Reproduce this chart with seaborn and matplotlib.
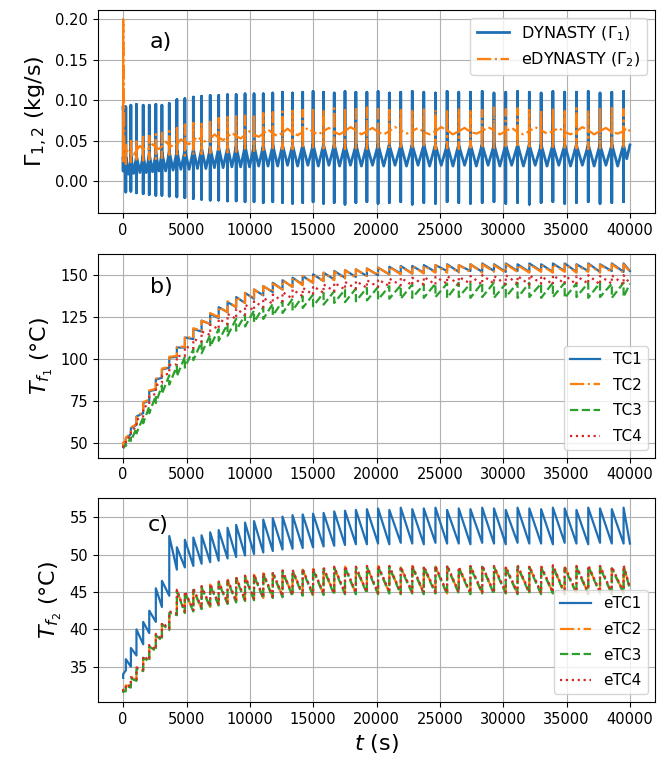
import numpy as np
import pandas as pd
import matplotlib
matplotlib.use("Agg")
import matplotlib.pyplot as plt
import seaborn as sns

# times (s) of the pump/valve events, read off panel a)
spike_t = [0, 210, 610, 1050, 1580, 2060, 2580, 3060, 3640, 4240,
           4870, 5540, 6190, 6870, 7540, 8240, 8920, 9620, 10330, 11060,
           11810, 12580, 13370, 14170, 14990, 15820, 16660, 17510, 18370, 19240,
           20120, 21010, 21910, 22820, 23730, 24650, 25570, 26490, 27410, 28340,
           29270, 30200, 31130, 32060, 32990, 33920, 34850, 35780, 36710, 37640,
           38570, 39500]
# times of the dip between two events
v_t = [105, 410, 830, 1315, 1820, 2320, 2820, 3350, 3940, 4555,
       5205, 5865, 6530, 7205, 7890, 8580, 9270, 9975, 10695, 11435,
       12195, 12975, 13770, 14580, 15405, 16240, 17085, 17940, 18805, 19680,
       20565, 21460, 22365, 23275, 24190, 25110, 26030, 26950, 27875, 28805,
       29735, 30665, 31595, 32525, 33455, 34385, 35315, 36245, 37175, 38105,
       39035, 39750]
t_end = 40000

# ---- panel a) mass flow rates (kg/s)
g1_pre = [0.090, 0.028, 0.030, 0.031, 0.032, 0.033, 0.034, 0.035, 0.036, 0.037,
          0.038, 0.039, 0.040, 0.041, 0.042, 0.042, 0.043, 0.043, 0.044, 0.044,
          0.044, 0.045, 0.045, 0.045, 0.045, 0.046, 0.045, 0.046, 0.045, 0.046,
          0.045, 0.046, 0.045, 0.046, 0.045, 0.046, 0.045, 0.046, 0.045, 0.046,
          0.045, 0.046, 0.045, 0.046, 0.045, 0.046, 0.045, 0.046, 0.045, 0.046,
          0.045, 0.046]
g1_peak = [0.093, 0.092, 0.094, 0.095, 0.094, 0.094, 0.095, 0.094, 0.096, 0.101,
           0.102, 0.104, 0.105, 0.106, 0.106, 0.107, 0.107, 0.108, 0.108, 0.108,
           0.109, 0.110, 0.109, 0.110, 0.111, 0.110, 0.109, 0.111, 0.110, 0.110,
           0.111, 0.109, 0.110, 0.111, 0.110, 0.109, 0.111, 0.110, 0.110, 0.111,
           0.109, 0.110, 0.111, 0.110, 0.109, 0.111, 0.110, 0.110, 0.111, 0.109,
           0.110, 0.111]
g1_trough = [0.013, -0.013, -0.012, -0.014, -0.015, -0.016, -0.017, -0.017, -0.018, -0.019,
             -0.020, -0.021, -0.022, -0.023, -0.023, -0.024, -0.024, -0.025, -0.025, -0.026,
             -0.025, -0.026, -0.027, -0.026, -0.025, -0.027, -0.026, -0.028, -0.026, -0.025,
             -0.027, -0.026, -0.025, -0.028, -0.026, -0.027, -0.025, -0.026, -0.027, -0.026,
             -0.025, -0.027, -0.026, -0.028, -0.026, -0.025, -0.027, -0.026, -0.025, -0.027,
             -0.026, -0.025]
g1_rise = [0.030, 0.030, 0.031, 0.032, 0.033, 0.034, 0.035, 0.036, 0.037, 0.038,
           0.039, 0.040, 0.041, 0.042, 0.042, 0.043, 0.043, 0.044, 0.044, 0.044,
           0.045, 0.045, 0.045, 0.045, 0.046, 0.045, 0.046, 0.045, 0.046, 0.045,
           0.046, 0.045, 0.046, 0.045, 0.046, 0.045, 0.046, 0.045, 0.046, 0.045,
           0.046, 0.045, 0.046, 0.045, 0.046, 0.045, 0.046, 0.045, 0.046, 0.045,
           0.046, 0.045]
g1_vlow = [0.012, 0.009, 0.010, 0.011, 0.011, 0.012, 0.013, 0.013, 0.014, 0.015,
           0.015, 0.016, 0.016, 0.017, 0.017, 0.018, 0.018, 0.018, 0.019, 0.019,
           0.019, 0.020, 0.019, 0.020, 0.019, 0.020, 0.019, 0.020, 0.019, 0.020,
           0.019, 0.020, 0.019, 0.020, 0.019, 0.020, 0.019, 0.020, 0.019, 0.020,
           0.019, 0.020, 0.019, 0.020, 0.019, 0.020, 0.019, 0.020, 0.019, 0.020,
           0.019, 0.028]
g1_end = 0.045

g2_pre = [0.200, 0.035, 0.036, 0.038, 0.040, 0.041, 0.042, 0.043, 0.045, 0.046,
          0.048, 0.050, 0.051, 0.052, 0.054, 0.055, 0.056, 0.057, 0.058, 0.059,
          0.059, 0.060, 0.060, 0.061, 0.061, 0.062, 0.061, 0.062, 0.063, 0.062,
          0.061, 0.062, 0.063, 0.062, 0.061, 0.062, 0.063, 0.062, 0.061, 0.062,
          0.063, 0.062, 0.061, 0.062, 0.063, 0.062, 0.061, 0.062, 0.063, 0.062,
          0.061, 0.062]
g2_peak = [0.200, 0.045, 0.050, 0.052, 0.055, 0.056, 0.058, 0.060, 0.062, 0.066,
           0.070, 0.072, 0.074, 0.076, 0.078, 0.079, 0.080, 0.081, 0.083, 0.084,
           0.085, 0.086, 0.087, 0.088, 0.088, 0.089, 0.090, 0.088, 0.089, 0.091,
           0.089, 0.088, 0.090, 0.089, 0.091, 0.088, 0.089, 0.090, 0.089, 0.088,
           0.091, 0.089, 0.090, 0.088, 0.089, 0.091, 0.089, 0.090, 0.088, 0.089,
           0.090, 0.089]
g2_trough = [0.025, 0.022, 0.024, 0.025, 0.026, 0.027, 0.028, 0.029, 0.030, 0.031,
             0.032, 0.033, 0.034, 0.035, 0.036, 0.036, 0.037, 0.038, 0.038, 0.039,
             0.039, 0.040, 0.040, 0.041, 0.040, 0.041, 0.042, 0.040, 0.041, 0.040,
             0.042, 0.041, 0.040, 0.041, 0.042, 0.040, 0.041, 0.040, 0.042, 0.041,
             0.040, 0.041, 0.042, 0.040, 0.041, 0.040, 0.042, 0.041, 0.040, 0.041,
             0.042, 0.041]
g2_mid = [0.030, 0.040, 0.033, 0.044, 0.038, 0.046, 0.040, 0.049, 0.043, 0.052,
          0.046, 0.055, 0.049, 0.058, 0.051, 0.060, 0.053, 0.062, 0.055, 0.064,
          0.056, 0.065, 0.057, 0.066, 0.058, 0.066, 0.058, 0.067, 0.058, 0.066,
          0.058, 0.067, 0.059, 0.066, 0.058, 0.067, 0.058, 0.066, 0.059, 0.067,
          0.058, 0.066, 0.058, 0.067, 0.059, 0.066, 0.058, 0.067, 0.058, 0.066,
          0.059, 0.066]
g2_end = 0.062

# ---- panel b) TC temperatures (degC): value before / after each event
tc1_lo = [48.0, 51.0, 55.5, 61.0, 68.0, 75.5, 82.0, 89.0, 95.0, 101.5,
          107.0, 112.0, 116.5, 121.0, 124.5, 128.0, 131.0, 133.5, 136.0, 138.0,
          140.0, 141.5, 143.0, 144.5, 145.5, 146.5, 147.5, 148.5, 149.0, 149.5,
          150.0, 150.5, 151.0, 151.0, 151.5, 152.0, 152.5, 152.0, 152.5, 152.0,
          152.5, 152.0, 152.5, 152.0, 152.5, 152.0, 152.5, 152.0, 152.5, 152.0,
          152.5, 152.0]
tc1_hi = [50.0, 53.0, 59.0, 66.0, 74.0, 81.0, 88.0, 94.0, 101.0, 107.0,
          113.0, 118.0, 123.0, 127.0, 131.0, 134.0, 137.0, 139.5, 141.5, 143.5,
          145.5, 147.0, 148.5, 149.5, 150.5, 151.5, 152.5, 153.0, 153.5, 154.0,
          154.5, 155.0, 155.5, 155.5, 156.0, 156.0, 156.5, 156.0, 156.5, 157.0,
          156.5, 157.0, 156.5, 157.0, 156.5, 157.0, 157.0, 156.5, 157.0, 156.5,
          157.0, 157.0]
tc2_lo = [48.0, 51.5, 56.0, 61.5, 68.5, 76.0, 82.5, 89.5, 95.5, 102.0,
          107.5, 112.5, 117.0, 121.0, 125.0, 128.0, 131.0, 133.5, 136.0, 138.0,
          140.0, 141.5, 143.0, 144.0, 145.5, 146.5, 147.0, 148.0, 148.5, 149.5,
          150.0, 150.5, 150.5, 151.0, 151.0, 151.5, 151.5, 151.5, 152.0, 151.5,
          152.0, 151.5, 152.0, 151.5, 152.0, 151.5, 152.0, 151.5, 152.0, 151.5,
          152.0, 151.5]
tc2_hi = [50.5, 53.5, 59.5, 66.5, 74.5, 81.5, 88.5, 94.5, 101.5, 107.5,
          113.5, 118.5, 123.0, 127.5, 131.0, 134.5, 137.0, 139.5, 141.5, 143.5,
          145.0, 147.0, 148.5, 149.5, 150.5, 151.5, 152.0, 153.0, 153.5, 154.0,
          154.5, 155.0, 155.0, 155.5, 155.5, 156.0, 156.0, 156.0, 156.5, 156.5,
          156.0, 156.5, 156.0, 156.5, 156.0, 156.5, 156.5, 156.0, 156.5, 156.0,
          156.5, 156.5]
tc3_hi = [47.0, 49.5, 53.5, 59.0, 65.5, 72.0, 78.5, 84.5, 90.5, 96.0,
          101.5, 106.0, 110.5, 114.5, 118.0, 121.0, 124.0, 126.5, 129.0, 131.0,
          133.0, 134.5, 136.0, 137.5, 138.5, 139.5, 140.5, 141.5, 142.0, 142.5,
          143.0, 143.5, 144.0, 144.5, 144.5, 145.0, 145.0, 145.5, 145.0, 145.5,
          145.5, 145.0, 145.5, 145.5, 145.0, 145.5, 145.5, 145.0, 145.5, 145.5,
          145.0, 145.5]
tc3_lo = [47.0, 48.5, 51.5, 56.0, 62.0, 68.0, 74.0, 79.5, 85.0, 90.0,
          95.0, 99.5, 103.5, 107.5, 111.0, 114.0, 117.0, 119.5, 122.0, 124.0,
          126.0, 127.5, 129.0, 130.5, 131.5, 132.5, 133.5, 134.0, 134.5, 135.0,
          135.5, 136.0, 136.0, 136.5, 136.5, 137.0, 136.5, 137.0, 136.5, 137.0,
          136.5, 137.0, 136.5, 137.0, 136.5, 137.0, 136.5, 137.0, 136.5, 137.0,
          136.5, 137.0]
tc4_lo = [47.5, 50.0, 54.5, 59.5, 66.0, 73.0, 79.5, 86.0, 91.5, 97.0,
          102.0, 106.5, 110.5, 114.5, 118.0, 121.0, 124.0, 126.5, 129.0, 131.0,
          133.0, 134.5, 136.0, 137.5, 138.5, 139.5, 140.5, 141.5, 142.0, 142.5,
          143.0, 143.5, 144.0, 144.0, 144.5, 144.5, 145.0, 144.5, 145.0, 144.5,
          145.0, 144.5, 145.0, 144.5, 145.0, 144.5, 145.0, 144.5, 145.0, 144.5,
          145.0, 144.5]
tc4_hi = [49.0, 52.0, 57.5, 64.0, 71.5, 78.0, 84.5, 90.5, 96.5, 102.0,
          107.5, 112.0, 116.5, 120.5, 124.0, 127.0, 130.0, 132.5, 134.5, 136.5,
          138.5, 140.0, 141.5, 142.5, 143.5, 144.5, 145.5, 146.0, 146.5, 147.0,
          147.5, 148.0, 148.5, 148.5, 149.0, 149.0, 149.5, 149.0, 149.5, 150.0,
          149.5, 150.0, 149.5, 150.0, 149.5, 150.0, 150.0, 149.5, 150.0, 149.5,
          150.0, 150.0]
tc_end = [152.5, 152.0, 145.0, 145.0]

# ---- panel c) eTC temperatures (degC)
etc1_lo = [33.5, 34.5, 35.0, 36.5, 38.0, 39.5, 41.0, 43.0, 44.5, 48.0,
           48.3, 48.5, 48.8, 49.0, 49.2, 49.5, 49.7, 49.9, 50.1, 50.3,
           50.5, 50.7, 50.8, 50.9, 51.0, 51.1, 51.2, 51.3, 51.4, 51.4,
           51.5, 51.4, 51.6, 51.5, 51.4, 51.6, 51.5, 51.5, 51.4, 51.6,
           51.5, 51.4, 51.6, 51.5, 51.5, 51.4, 51.6, 51.5, 51.4, 51.6,
           51.5, 51.5]
etc1_hi = [34.0, 36.0, 37.5, 40.0, 41.0, 42.5, 45.5, 46.5, 52.5, 51.0,
           52.0, 52.3, 52.6, 53.0, 53.3, 53.6, 54.0, 54.3, 54.5, 54.7,
           54.9, 55.1, 55.3, 55.4, 55.5, 55.6, 55.8, 55.9, 56.0, 56.1,
           56.2, 56.0, 56.3, 56.1, 56.2, 56.3, 56.0, 56.2, 56.1, 56.3,
           56.2, 56.0, 56.3, 56.2, 56.1, 56.3, 56.2, 56.0, 56.3, 56.2,
           56.1, 56.3]
etc2_lo = [31.6, 31.8, 32.3, 33.2, 34.5, 35.8, 37.2, 38.6, 40.0, 42.0,
           42.3, 42.5, 42.8, 43.0, 43.3, 43.5, 43.7, 43.9, 44.0, 44.2,
           44.3, 44.4, 44.5, 44.6, 44.6, 44.7, 44.7, 44.8, 44.8, 44.9,
           44.8, 44.9, 44.8, 44.9, 44.8, 44.9, 44.8, 44.9, 44.8, 44.9,
           44.8, 44.9, 44.8, 44.9, 44.8, 44.9, 44.8, 44.9, 44.8, 44.9,
           44.8, 44.9]
etc2_hi = [31.8, 32.5, 33.5, 34.8, 36.3, 37.8, 39.3, 40.8, 42.3, 45.2,
           45.0, 45.4, 45.7, 46.0, 46.3, 46.6, 46.9, 47.1, 47.3, 47.5,
           47.6, 47.8, 47.9, 48.0, 48.1, 48.2, 48.3, 48.4, 48.3, 48.4,
           48.5, 48.4, 48.3, 48.5, 48.4, 48.4, 48.5, 48.3, 48.4, 48.5,
           48.4, 48.3, 48.5, 48.4, 48.4, 48.5, 48.3, 48.4, 48.5, 48.4,
           48.3, 48.5]
etc3_lo = [31.5, 31.7, 32.2, 33.1, 34.4, 35.7, 37.1, 38.5, 39.9, 41.9,
           42.2, 42.4, 42.7, 42.9, 43.2, 43.4, 43.6, 43.8, 43.9, 44.1,
           44.2, 44.3, 44.4, 44.5, 44.5, 44.6, 44.6, 44.7, 44.7, 44.8,
           44.7, 44.8, 44.7, 44.8, 44.7, 44.8, 44.7, 44.8, 44.7, 44.8,
           44.7, 44.8, 44.7, 44.8, 44.7, 44.8, 44.7, 44.8, 44.7, 44.8,
           44.7, 44.8]
etc3_hi = [31.7, 32.4, 33.4, 34.7, 36.2, 37.7, 39.2, 40.7, 42.2, 45.1,
           44.9, 45.3, 45.6, 45.9, 46.2, 46.5, 46.8, 47.0, 47.2, 47.4,
           47.5, 47.7, 47.8, 47.9, 48.0, 48.1, 48.2, 48.3, 48.2, 48.3,
           48.4, 48.3, 48.2, 48.4, 48.3, 48.3, 48.4, 48.2, 48.3, 48.4,
           48.3, 48.2, 48.4, 48.3, 48.3, 48.4, 48.2, 48.3, 48.4, 48.3,
           48.2, 48.4]
etc4_lo = [31.7, 31.9, 32.4, 33.3, 34.6, 35.9, 37.3, 38.7, 40.1, 42.1,
           42.4, 42.6, 42.9, 43.1, 43.4, 43.6, 43.8, 44.0, 44.1, 44.3,
           44.4, 44.5, 44.6, 44.7, 44.7, 44.8, 44.8, 44.9, 44.9, 45.0,
           44.9, 45.0, 44.9, 45.0, 44.9, 45.0, 44.9, 45.0, 44.9, 45.0,
           44.9, 45.0, 44.9, 45.0, 44.9, 45.0, 44.9, 45.0, 44.9, 45.0,
           44.9, 45.0]
etc4_hi = [31.9, 32.6, 33.6, 34.9, 36.4, 37.9, 39.4, 40.9, 42.4, 45.3,
           45.1, 45.5, 45.8, 46.1, 46.4, 46.7, 47.0, 47.2, 47.4, 47.6,
           47.7, 47.9, 48.0, 48.1, 48.2, 48.3, 48.4, 48.5, 48.4, 48.5,
           48.6, 48.5, 48.4, 48.6, 48.5, 48.5, 48.6, 48.4, 48.5, 48.6,
           48.5, 48.4, 48.6, 48.5, 48.5, 48.6, 48.4, 48.5, 48.6, 48.5,
           48.4, 48.6]
etc_end = [51.5, 45.5, 45.4, 45.6]


def cycles(levels, mids=None, end=None):
    # chain the read levels: all levels at each event, optional dip between events
    ts, vs = [], []
    for k, t in enumerate(spike_t):
        for lev in levels:
            ts.append(t)
            vs.append(lev[k])
        if mids is not None:
            ts.append(v_t[k])
            vs.append(mids[k])
    ts.append(t_end)
    vs.append(end)
    return ts, vs


blue, orange, green, red = "#1f6fb4", "#ff7f0e", "#2ca02c", "#d62728"

fig, axes = plt.subplots(3, 1, figsize=(6.7, 7.61))
fig.subplots_adjust(left=0.146, right=0.978, top=0.987, bottom=0.0775, hspace=0.2)

# a) mass flow rates
ax = axes[0]
x, y = cycles([g1_pre, g1_peak, g1_trough, g1_rise], g1_vlow, g1_end)
sns.lineplot(x=x, y=y, ax=ax, estimator=None, sort=False, color=blue, lw=2.0,
             label=r"DYNASTY ($\Gamma_1$)")
x, y = cycles([g2_pre, g2_peak, g2_trough, g2_pre], g2_mid, g2_end)
sns.lineplot(x=x, y=y, ax=ax, estimator=None, sort=False, color=orange, lw=1.6,
             ls="-.", label=r"eDYNASTY ($\Gamma_2$)")
ax.set_yticks([0.0, 0.05, 0.10, 0.15, 0.20])
ax.set_ylabel(r"$\Gamma_{1,2}$ (kg/s)", fontsize=16)
ax.legend(loc="upper right", fontsize=11.5)
ax.text(0.093, 0.815, "a)", transform=ax.transAxes, fontsize=16)

# b) fluid temperatures, DYNASTY
ax = axes[1]
tc_series = [("TC1", tc1_lo, tc1_hi, blue, "-"),
             ("TC2", tc2_lo, tc2_hi, orange, "-."),
             ("TC3", tc3_hi, tc3_lo, green, "--"),
             ("TC4", tc4_lo, tc4_hi, red, ":")]
for (name, first, second, col, ls), end in zip(tc_series, tc_end):
    x, y = cycles([first, second], end=end)
    sns.lineplot(x=x, y=y, ax=ax, estimator=None, sort=False, color=col, lw=1.6,
                 ls=ls, label=name)
ax.set_yticks([50, 75, 100, 125, 150])
ax.set_ylabel(r"$T_{f_1}$ (°C)", fontsize=16)
ax.legend(loc="lower right", fontsize=11, labelspacing=0.7)
ax.text(0.093, 0.81, "b)", transform=ax.transAxes, fontsize=16)

# c) fluid temperatures, eDYNASTY
ax = axes[2]
etc_series = [("eTC1", etc1_lo, etc1_hi, blue, "-"),
              ("eTC2", etc2_lo, etc2_hi, orange, "-."),
              ("eTC3", etc3_lo, etc3_hi, green, "--"),
              ("eTC4", etc4_lo, etc4_hi, red, ":")]
for (name, first, second, col, ls), end in zip(etc_series, etc_end):
    x, y = cycles([first, second], end=end)
    sns.lineplot(x=x, y=y, ax=ax, estimator=None, sort=False, color=col, lw=1.6,
                 ls=ls, label=name)
ax.set_yticks([35, 40, 45, 50, 55])
ax.set_ylabel(r"$T_{f_2}$ (°C)", fontsize=16)
ax.set_xlabel(r"$t$ (s)", fontsize=16)
ax.legend(loc="lower right", fontsize=11, labelspacing=0.7)
ax.text(0.09, 0.84, "c)", transform=ax.transAxes, fontsize=16)

for ax in axes:
    ax.set_xticks(np.arange(0, 40001, 5000))
    ax.tick_params(labelsize=10.5)
    ax.grid(True)

fig.savefig("out.png", dpi=100)
